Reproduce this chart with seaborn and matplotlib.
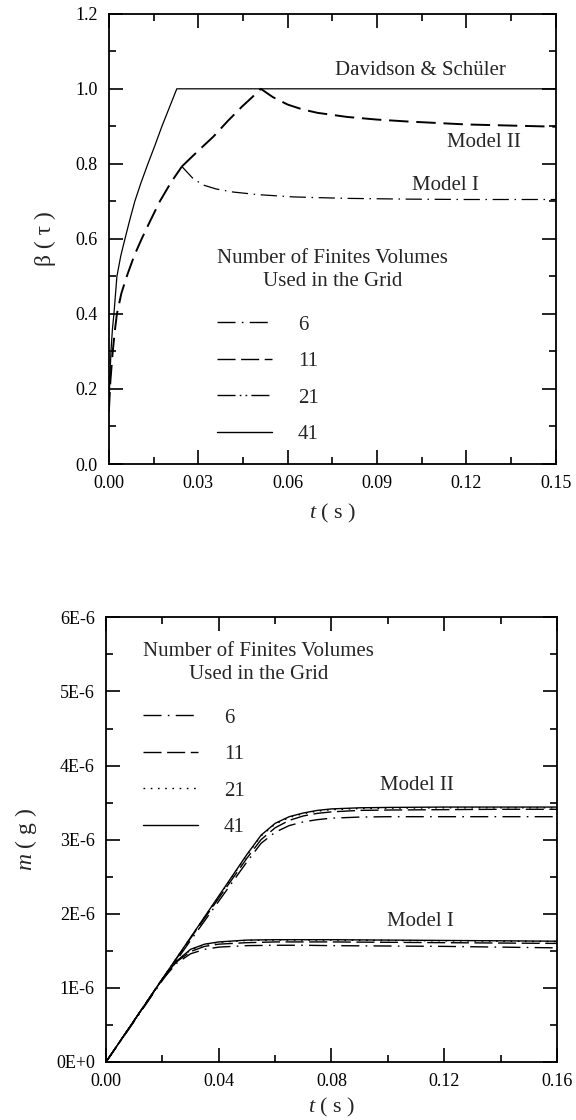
import matplotlib
matplotlib.use("Agg")
import matplotlib.pyplot as plt
from matplotlib.lines import Line2D
from matplotlib.ticker import MultipleLocator, FixedLocator, FixedFormatter
import seaborn as sns

# ---- top panel: beta(tau) vs t
ds_t    = [0.0, 0.0003, 0.0007, 0.0012, 0.0017, 0.0027, 0.0040, 0.0054, 0.0070, 0.0087, 0.0108, 0.0131, 0.0155, 0.0178, 0.0203, 0.0228, 0.15]
ds_beta = [0.14, 0.22, 0.30, 0.36, 0.40, 0.50, 0.555, 0.60, 0.65, 0.70, 0.75, 0.80, 0.85, 0.90, 0.95, 1.00, 1.00]

rise_t    = [0.0, 0.0005, 0.0013, 0.0020, 0.0027, 0.0042, 0.0060, 0.0085, 0.0110, 0.0140, 0.0171, 0.0208, 0.0245]
rise_beta = [0.14, 0.22, 0.30, 0.355, 0.40, 0.455, 0.50, 0.555, 0.60, 0.65, 0.70, 0.75, 0.793]

m2_t    = [0.0245, 0.030, 0.035, 0.040, 0.0446, 0.048, 0.051, 0.055, 0.060, 0.065, 0.070, 0.080, 0.090, 0.100, 0.110, 0.120, 0.135, 0.150]
m2_beta = [0.793, 0.835, 0.872, 0.915, 0.952, 0.977, 1.000, 0.978, 0.958, 0.945, 0.936, 0.925, 0.918, 0.913, 0.909, 0.905, 0.902, 0.899]

m1_t    = [0.0245, 0.0280, 0.0315, 0.0360, 0.0416, 0.050, 0.0617, 0.070, 0.080, 0.100, 0.120, 0.150]
m1_beta = [0.793, 0.763, 0.744, 0.733, 0.725, 0.718, 0.712, 0.710, 0.708, 0.706, 0.705, 0.705]

# ---- bottom panel: m(g) vs t, per grid size
b1_t = [0.0, 0.01, 0.02, 0.025, 0.03, 0.035, 0.04, 0.05, 0.06, 0.07, 0.08, 0.10, 0.12, 0.14, 0.16]
m1_41 = [0.0, 0.56, 1.12, 1.36, 1.52, 1.59, 1.62, 1.645, 1.65, 1.65, 1.65, 1.645, 1.64, 1.635, 1.63]
m1_21 = [0.0, 0.56, 1.12, 1.36, 1.51, 1.585, 1.615, 1.64, 1.645, 1.645, 1.645, 1.64, 1.635, 1.63, 1.625]
m1_11 = [0.0, 0.56, 1.12, 1.35, 1.49, 1.56, 1.59, 1.61, 1.62, 1.62, 1.62, 1.615, 1.61, 1.605, 1.60]
m1_6  = [0.0, 0.55, 1.11, 1.33, 1.46, 1.52, 1.55, 1.57, 1.575, 1.575, 1.57, 1.565, 1.56, 1.55, 1.54]

b2_t = [0.0, 0.01, 0.02, 0.03, 0.04, 0.05, 0.055, 0.06, 0.065, 0.07, 0.075, 0.08, 0.09, 0.10, 0.12, 0.14, 0.16]
m2_41 = [0.0, 0.56, 1.12, 1.68, 2.24, 2.80, 3.06, 3.22, 3.31, 3.36, 3.395, 3.415, 3.43, 3.435, 3.44, 3.44, 3.44]
m2_21 = [0.0, 0.56, 1.12, 1.68, 2.23, 2.79, 3.05, 3.21, 3.30, 3.35, 3.385, 3.405, 3.42, 3.425, 3.43, 3.43, 3.43]
m2_11 = [0.0, 0.56, 1.12, 1.67, 2.21, 2.75, 3.00, 3.16, 3.26, 3.32, 3.355, 3.375, 3.395, 3.40, 3.405, 3.41, 3.41]
m2_6  = [0.0, 0.55, 1.10, 1.64, 2.17, 2.70, 2.95, 3.10, 3.19, 3.24, 3.27, 3.29, 3.305, 3.31, 3.31, 3.31, 3.31]

grids = ["6", "11", "21", "41"]
m_ticks = [0, 1e-6, 2e-6, 3e-6, 4e-6, 5e-6, 6e-6]
m_ticklabels = ["0E+0", "1E-6", "2E-6", "3E-6", "4E-6", "5E-6", "6E-6"]

sns.set_theme(style="ticks")
plt.rcParams["font.family"] = ["Liberation Serif", "DejaVu Serif"]
plt.rcParams["mathtext.fontset"] = "custom"
plt.rcParams["mathtext.rm"] = "Liberation Serif"
plt.rcParams["mathtext.it"] = "Liberation Serif:italic"

fig = plt.figure(figsize=(5.76, 11.2), dpi=100)
ax1 = fig.add_axes([0.189, 0.5857, 0.776, 0.402])
ax2 = fig.add_axes([0.184, 0.0518, 0.783, 0.397])

top_styles = {"6": (0, (13, 4.5, 1.2, 4.5)), "11": (0, (13, 4)),
              "21": (0, (13, 3, 1.2, 3, 1.2, 3)), "41": "-"}
bot_styles = {"6": (0, (13, 4.5, 1.2, 4.5)), "11": (0, (13, 4)),
              "21": (0, (1.2, 4)), "41": "-"}

# top curves
sns.lineplot(x=ds_t, y=ds_beta, ax=ax1, color="black", lw=0.9, linestyle="-")
sns.lineplot(x=rise_t, y=rise_beta, ax=ax1, color="black", lw=1.4, linestyle=(0, (10, 4)))
sns.lineplot(x=m2_t, y=m2_beta, ax=ax1, color="black", lw=1.4, linestyle=(0, (10, 4)))
sns.lineplot(x=m1_t, y=m1_beta, ax=ax1, color="black", lw=0.9, linestyle=top_styles["6"])

# bottom curves
for vals, key in [(m1_6, "6"), (m1_11, "11"), (m1_21, "21"), (m1_41, "41")]:
    sns.lineplot(x=b1_t, y=[v * 1e-6 for v in vals], ax=ax2, color="black", lw=1.0,
                 linestyle=bot_styles[key])
for vals, key in [(m2_6, "6"), (m2_11, "11"), (m2_21, "21"), (m2_41, "41")]:
    sns.lineplot(x=b2_t, y=[v * 1e-6 for v in vals], ax=ax2, color="black", lw=1.0,
                 linestyle=bot_styles[key])

for ax in (ax1, ax2):
    for s in ax.spines.values():
        s.set_linewidth(1.3)
        s.set_color("black")
    ax.tick_params(which="both", direction="in", top=True, right=True,
                   colors="black", labelsize=13, width=1.2, pad=8)
    ax.tick_params(which="major", length=10)
    ax.tick_params(which="minor", length=5)

ax1.set_xlim(0, 0.15)
ax1.set_ylim(0, 1.2)
ax1.xaxis.set_major_locator(MultipleLocator(0.03))
ax1.xaxis.set_minor_locator(MultipleLocator(0.015))
ax1.yaxis.set_major_locator(MultipleLocator(0.2))
ax1.yaxis.set_minor_locator(MultipleLocator(0.1))
ax1.xaxis.set_major_formatter(plt.FuncFormatter(lambda v, p: f"{v:.2f}"))
ax1.yaxis.set_major_formatter(plt.FuncFormatter(lambda v, p: f"{v:.1f}"))
ax1.set_xlabel(r"$\it{t}$ ( s )", fontsize=16, labelpad=7)
ax1.set_ylabel("β ( τ )", fontsize=17, labelpad=14)

ax2.set_xlim(0, 0.16)
ax2.set_ylim(0, 6e-6)
ax2.xaxis.set_major_locator(MultipleLocator(0.04))
ax2.xaxis.set_minor_locator(MultipleLocator(0.02))
ax2.yaxis.set_major_locator(FixedLocator(m_ticks))
ax2.yaxis.set_major_formatter(FixedFormatter(m_ticklabels))
ax2.yaxis.set_minor_locator(MultipleLocator(0.5e-6))
ax2.xaxis.set_major_formatter(plt.FuncFormatter(lambda v, p: f"{v:.2f}"))
ax2.set_xlabel(r"$\it{t}$ ( s )", fontsize=16, labelpad=4)
ax2.set_ylabel(r"$\it{m}$ ( g )", fontsize=17, labelpad=12)

# curve labels
ax1.text(0.1047, 1.048, "Davidson & Schüler", ha="center", va="center", fontsize=15)
ax1.text(0.126, 0.856, "Model II", ha="center", va="center", fontsize=15)
ax1.text(0.1128, 0.741, "Model I", ha="center", va="center", fontsize=15)
ax2.text(0.1103, 3.73e-6, "Model II", ha="center", va="center", fontsize=15)
ax2.text(0.1114, 1.89e-6, "Model I", ha="center", va="center", fontsize=15)

title = "Number of Finites Volumes\nUsed in the Grid"
for ax, styles, anchor in [(ax1, top_styles, (0.242, 0.477)), (ax2, bot_styles, (0.082, 0.944))]:
    handles = [Line2D([], [], color="black", lw=1.0, linestyle=styles[g]) for g in grids]
    leg = ax.legend(handles, grids, title=title, loc="upper left", bbox_to_anchor=anchor,
                    frameon=False, fontsize=15, title_fontsize=15, handlelength=2.64,
                    handletextpad=1.25, labelspacing=0.81, borderpad=0, borderaxespad=0,
                    alignment="left")
    leg.get_title().set_multialignment("center")
    leg.get_title().set_linespacing(1.3)
    leg._legend_box.sep = 17

fig.savefig("out.png", dpi=100)
